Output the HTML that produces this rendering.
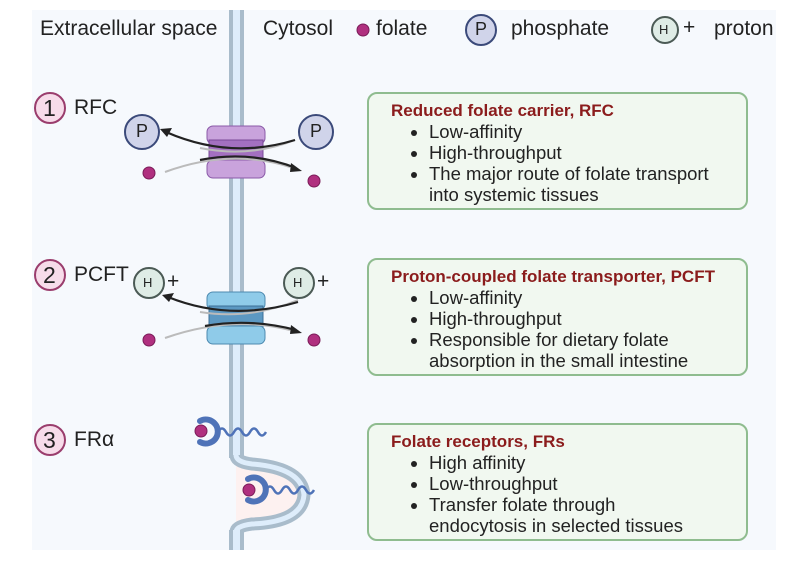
<!DOCTYPE html>
<html><head><meta charset="utf-8"><style>
body{margin:0;width:800px;height:569px;background:#fff;position:relative;overflow:hidden;font-family:"Liberation Sans",sans-serif;color:#222}
.t{position:absolute;white-space:nowrap;font-size:21px;}
.box{position:absolute;left:367px;width:381px;height:118px;border:2px solid #8fbc8f;border-radius:10px;background:#f1f8f0;box-sizing:border-box}
.box .h{position:absolute;left:22px;top:7px;font-weight:bold;color:#8b1c1c;font-size:17px;white-space:nowrap}
.box ul{position:absolute;left:30px;top:27px;margin:0;padding:0 0 0 30px;font-size:18.5px;line-height:21px}
</style></head><body>
<div style="position:absolute;left:32px;top:10px;width:744px;height:540px;background:#f6f9fd"></div>
<svg width="800" height="569" style="position:absolute;left:0;top:0">
<rect x="229" y="10" width="15" height="540" fill="#deedfb"/>
<line x1="231" y1="10" x2="231" y2="550" stroke="#a9bccb" stroke-width="4"/>
<line x1="242" y1="10" x2="242" y2="550" stroke="#a9bccb" stroke-width="4"/>
<rect x="226" y="455" width="22" height="75" fill="#f6f9fd"/>
<path d="M236 455 Q236 462 252 464 Q302 468 304 495 Q302 522 252 524 Q236 526 236 532" fill="#fdf1f0" stroke="#a9bccb" stroke-width="13"/>
<path d="M236 455 Q236 462 252 464 Q302 468 304 495 Q302 522 252 524 Q236 526 236 532" fill="none" stroke="#deedfb" stroke-width="5"/>
<rect x="229" y="400" width="15" height="55" fill="#deedfb"/>
<line x1="231" y1="400" x2="231" y2="458" stroke="#a9bccb" stroke-width="4"/>
<line x1="242" y1="400" x2="242" y2="458" stroke="#a9bccb" stroke-width="4"/>
<rect x="229" y="530" width="15" height="20" fill="#deedfb"/>
<line x1="231" y1="530" x2="231" y2="550" stroke="#a9bccb" stroke-width="4"/>
<line x1="242" y1="530" x2="242" y2="550" stroke="#a9bccb" stroke-width="4"/>
<circle cx="363" cy="30" r="6" fill="#b0307f" stroke="#7a1c58"/>
<circle cx="481" cy="30" r="15" fill="#d0d4ea" stroke="#3b4a7a" stroke-width="2"/>
<circle cx="665" cy="30" r="13" fill="#dfece6" stroke="#4b5a55" stroke-width="2"/>
<g fill="#f7dcea" stroke="#9a3d6d" stroke-width="2">
<circle cx="50" cy="108" r="15"/><circle cx="50" cy="275" r="15"/><circle cx="50" cy="440" r="15"/></g>
<rect x="207" y="126" width="58" height="18" rx="6" fill="#c9a3dc" stroke="#8a5aa8"/>
<rect x="209" y="140" width="54" height="24" fill="#a370c0" stroke="#7a4a98"/>
<rect x="207" y="160" width="58" height="18" rx="6" fill="#c9a3dc" stroke="#8a5aa8"/>
<rect x="207" y="292" width="58" height="18" rx="6" fill="#8fcbe9" stroke="#4d8ab0"/>
<rect x="209" y="306" width="54" height="24" fill="#5c98c2" stroke="#3d6f96"/>
<rect x="207" y="326" width="58" height="18" rx="6" fill="#8fcbe9" stroke="#4d8ab0"/>
<path d="M295 140 Q250 158 200 148" fill="none" stroke="#bbb" stroke-width="2"/>
<path d="M166 132 Q230 160 295 140" fill="none" stroke="#222" stroke-width="2.2"/>
<polygon points="160,129 172,128 167,137" fill="#222"/>
<path d="M165 172 Q230 148 290 167" fill="none" stroke="#bbb" stroke-width="2"/>
<path d="M200 160 Q250 150 296 168" fill="none" stroke="#222" stroke-width="2.2"/>
<polygon points="302,171 291,163 290,172" fill="#222"/>
<circle cx="142" cy="132" r="17" fill="#d0d4ea" stroke="#3b4a7a" stroke-width="2"/>
<circle cx="316" cy="132" r="17" fill="#d0d4ea" stroke="#3b4a7a" stroke-width="2"/>
<circle cx="149" cy="173" r="6" fill="#b0307f" stroke="#7a1c58"/>
<circle cx="314" cy="181" r="6" fill="#b0307f" stroke="#7a1c58"/>
<path d="M298 300 Q250 320 200 312" fill="none" stroke="#bbb" stroke-width="2"/>
<path d="M168 297 Q230 322 298 302" fill="none" stroke="#222" stroke-width="2.2"/>
<polygon points="162,295 174,293 169,302" fill="#222"/>
<path d="M165 338 Q230 315 290 330" fill="none" stroke="#bbb" stroke-width="2"/>
<path d="M205 326 Q250 318 296 330" fill="none" stroke="#222" stroke-width="2.2"/>
<polygon points="302,333 291,325 290,334" fill="#222"/>
<circle cx="149" cy="283" r="15" fill="#dfece6" stroke="#4b5a55" stroke-width="2"/>
<circle cx="299" cy="283" r="15" fill="#dfece6" stroke="#4b5a55" stroke-width="2"/>
<circle cx="149" cy="340" r="6" fill="#b0307f" stroke="#7a1c58"/>
<circle cx="314" cy="340" r="6" fill="#b0307f" stroke="#7a1c58"/>
<path d="M200 421 A12 12 0 1 1 200 442" fill="none" stroke="#4f73b8" stroke-width="6" stroke-linecap="round"/>
<path d="M218 432 q4 -7 8 0 t8 0 t8 0 t8 0 t8 0 t8 0" fill="none" stroke="#4f73b8" stroke-width="2.5"/>
<circle cx="201" cy="431" r="6" fill="#b0307f" stroke="#7a1c58"/>
<path d="M248 479 A12 12 0 1 1 248 500" fill="none" stroke="#4f73b8" stroke-width="6" stroke-linecap="round"/>
<path d="M266 490 q4 -7 8 0 t8 0 t8 0 t8 0 t8 0 t8 0" fill="none" stroke="#4f73b8" stroke-width="2.5"/>
<circle cx="249" cy="490" r="6" fill="#b0307f" stroke="#7a1c58"/>
</svg>
<div class="t" style="left:40px;top:17px">Extracellular space</div>
<div class="t" style="left:263px;top:17px">Cytosol</div>
<div class="t" style="left:376px;top:17px">folate</div>
<div class="t" style="left:475px;top:19px;font-size:18px">P</div>
<div class="t" style="left:511px;top:17px">phosphate</div>
<div class="t" style="left:659px;top:22px;font-size:13px">H</div>
<div class="t" style="left:683px;top:16px">+</div>
<div class="t" style="left:714px;top:17px">proton</div>
<div class="t" style="left:43px;top:95px;font-size:23px">1</div>
<div class="t" style="left:74px;top:96px">RFC</div>
<div class="t" style="left:43px;top:262px;font-size:23px">2</div>
<div class="t" style="left:74px;top:263px">PCFT</div>
<div class="t" style="left:43px;top:427px;font-size:23px">3</div>
<div class="t" style="left:74px;top:428px">FRα</div>
<div class="t" style="left:136px;top:121px;font-size:18px">P</div>
<div class="t" style="left:310px;top:121px;font-size:18px">P</div>
<div class="t" style="left:143px;top:275px;font-size:13px">H</div>
<div class="t" style="left:167px;top:270px">+</div>
<div class="t" style="left:293px;top:275px;font-size:13px">H</div>
<div class="t" style="left:317px;top:270px">+</div>
<div class="box" style="top:92px"><div class="h">Reduced folate carrier, RFC</div><ul><li>Low-affinity</li><li>High-throughput</li><li>The major route of folate transport<br>into systemic tissues</li></ul></div>
<div class="box" style="top:258px"><div class="h">Proton-coupled folate transporter, PCFT</div><ul><li>Low-affinity</li><li>High-throughput</li><li>Responsible for dietary folate<br>absorption in the small intestine</li></ul></div>
<div class="box" style="top:423px"><div class="h">Folate receptors, FRs</div><ul><li>High affinity</li><li>Low-throughput</li><li>Transfer folate through<br>endocytosis in selected tissues</li></ul></div>
</body></html>
